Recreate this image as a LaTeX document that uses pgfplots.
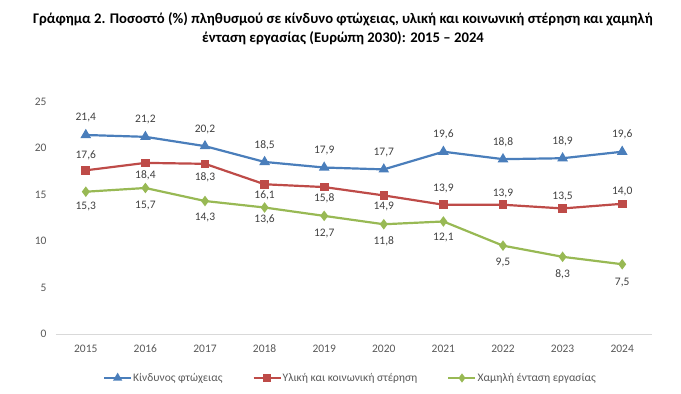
\documentclass[border=0pt]{standalone}
\usepackage{pgfplots}
\pgfplotsset{compat=1.18}
\usepackage{pgfplotstable}
\usepackage{fontspec}
\setmainfont{Carlito}
\definecolor{cblue}{HTML}{4A7EBB}
\definecolor{cred}{HTML}{BE4B48}
\definecolor{cgreen}{HTML}{98B954}
\definecolor{tickgray}{HTML}{595959}
\definecolor{lblgray}{HTML}{404040}
\definecolor{axisgray}{HTML}{D9D9D9}

\pgfplotstableread{
x y dy
2015 21.4 17
2016 21.2 17
2017 20.2 17
2018 18.5 17
2019 17.9 17
2020 17.7 17
2021 19.6 17
2022 18.8 17
2023 18.9 17
2024 19.6 17
}\blue
\pgfplotstableread{
x y dy
2015 17.6 15
2016 18.4 -12
2017 18.3 -13
2018 16.1 -11
2019 15.8 -11
2020 14.9 -11
2021 13.9 16
2022 13.9 11
2023 13.5 12
2024 14.0 12
}\red
\pgfplotstableread{
x y dy
2015 15.3 -15
2016 15.7 -18
2017 14.3 -16
2018 13.6 -12
2019 12.7 -18
2020 11.8 -17
2021 12.1 -16
2022 9.5 -17
2023 8.3 -17
2024 7.5 -18
}\green

\begin{document}
\begin{tikzpicture}
\begin{axis}[
  scale only axis, width=596pt, height=232.5pt,
  xmin=2014.5, xmax=2024.5, ymin=0, ymax=25,
  xtick={2015,2016,...,2024}, ytick={0,5,...,25},
  axis lines=left,
  y axis line style={draw=none},
  x axis line style={draw=axisgray, line width=0.9pt, -},
  major tick length=0pt,
  tick label style={font=\fontsize{11.5}{13}\selectfont, text=tickgray},
  /pgf/number format/assume math mode=true,
  xticklabel style={/pgf/number format/1000 sep=, text height=8pt, text depth=0pt, yshift=-7pt},
  yticklabel style={xshift=-6pt},
  clip=false,
  title={Γράφημα 2. Ποσοστό (\%) πληθυσμού σε κίνδυνο φτώχειας, υλική και κοινωνική στέρηση και χαμηλή\\ ένταση εργασίας (Ευρώπη 2030): 2015 – 2024},
  title style={font=\bfseries\fontsize{14.7}{19.5}\selectfont, align=center, at={(axis description cs:0.5,1)}, anchor=center, yshift=67pt, xshift=-11pt},
  legend columns=3,
  legend style={draw=none, at={(axis description cs:0.5,0)}, anchor=center, yshift=-44pt, xshift=-4pt,
    font=\fontsize{11.5}{13}\selectfont, text=tickgray,
    nodes={inner xsep=1pt},
    /tikz/every even column/.append style={column sep=29pt}},
  legend cell align=left,
  legend image code/.code={\draw[mark repeat=2,mark phase=2, mark options={scale=0.8}] plot coordinates {(0pt,0pt) (13.5pt,0pt) (27pt,0pt)};},
  every axis plot/.append style={line width=2.2pt},
  nodes near coords={\pgfmathprintnumber[fixed,fixed zerofill,precision=1,use comma]{\pgfplotspointmeta}},
  point meta=y,
  visualization depends on={\thisrow{dy} \as \dy},
  every node near coord/.append style={anchor=center, yshift=\dy pt, font=\fontsize{11.5}{13}\selectfont, text=lblgray},
]
\addplot[color=cblue, mark=triangle*, mark size=4pt, mark options={solid}] table[x=x,y=y] {\blue};
\addlegendentry{Κίνδυνος φτώχειας}
\addplot[color=cred, mark=square*, mark size=3.2pt, mark options={solid}] table[x=x,y=y] {\red};
\addlegendentry{Υλική και κοινωνική στέρηση}
\addplot[color=cgreen, mark=diamond*, mark size=3.5pt, mark options={solid}] table[x=x,y=y] {\green};
\addlegendentry{Χαμηλή ένταση εργασίας}
\end{axis}
\path (current axis.south west) ++(-56pt,-60pt) rectangle ++(681pt,394pt);
\end{tikzpicture}
\end{document}
